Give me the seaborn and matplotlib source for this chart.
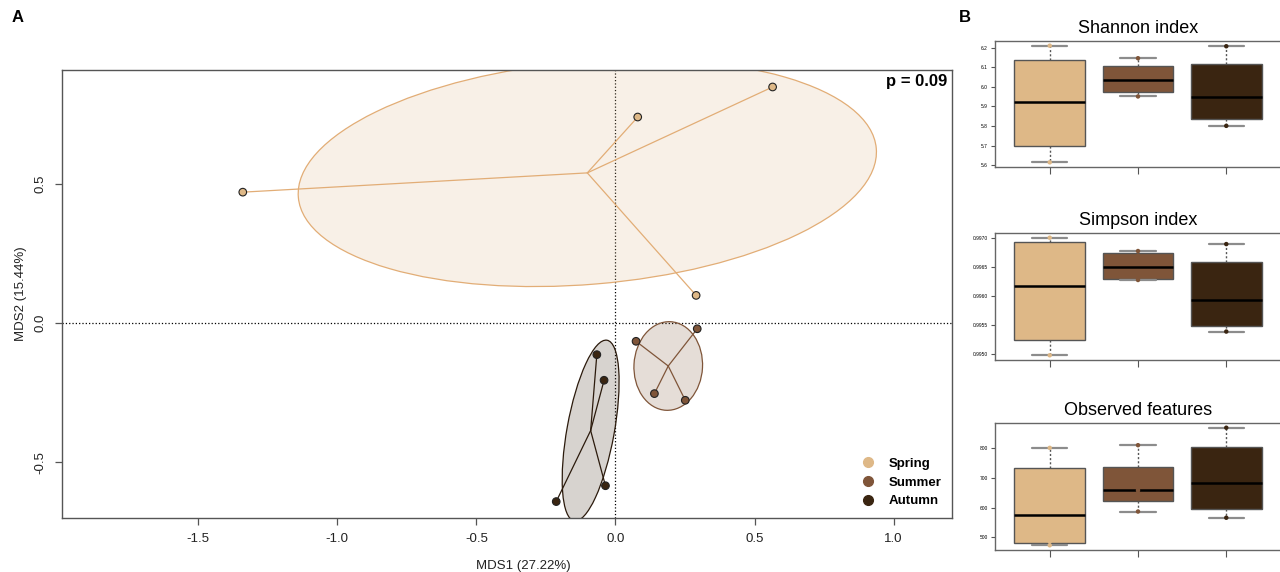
import numpy as np
import pandas as pd
import matplotlib.pyplot as plt
import seaborn as sns
from matplotlib.patches import Ellipse
from matplotlib.lines import Line2D
from matplotlib.ticker import MultipleLocator, FormatStrFormatter

seasons = ['Spring', 'Summer', 'Autumn']
colors = ['#DEB887', '#7F5539', '#3A2511']
line_colors = ['#E2AD76', '#7F5539', '#2B1A0C']

# NMDS scores per sample
mds1_spring = [-1.34, 0.08, 0.565, 0.29]
mds2_spring = [0.471, 0.741, 0.849, 0.100]
mds1_summer = [0.074, 0.294, 0.140, 0.251]
mds2_summer = [-0.065, -0.020, -0.253, -0.277]
mds1_autumn = [-0.067, -0.041, -0.036, -0.213]
mds2_autumn = [-0.113, -0.205, -0.584, -0.641]

# alpha diversity per sample
shannon_spring = [5.615, 5.781, 6.062, 6.210]
shannon_summer = [5.951, 5.997, 6.068, 6.146]
shannon_autumn = [5.801, 5.871, 6.021, 6.207]
simpson_spring = [0.99497, 0.99549, 0.99684, 0.99700]
simpson_summer = [0.99627, 0.99631, 0.99669, 0.99677]
simpson_autumn = [0.99538, 0.99558, 0.99627, 0.99689]
observed_spring = [473, 486, 666, 802]
observed_summer = [587, 658, 664, 811]
observed_autumn = [566, 625, 741, 870]

mds_x = [mds1_spring, mds1_summer, mds1_autumn]
mds_y = [mds2_spring, mds2_summer, mds2_autumn]

ord_df = pd.DataFrame({
    'season': np.repeat(seasons, 4),
    'MDS1': np.concatenate(mds_x),
    'MDS2': np.concatenate(mds_y),
})

alpha = {
    'Shannon index': [shannon_spring, shannon_summer, shannon_autumn],
    'Simpson index': [simpson_spring, simpson_summer, simpson_autumn],
    'Observed features': [observed_spring, observed_summer, observed_autumn],
}


def fivenum(v):
    # Tukey hinges, same as R's boxplot
    v = np.sort(np.asarray(v, dtype=float))
    n = len(v)
    n4 = np.floor((n + 3) / 2) / 2
    d = np.array([1, n4, (n + 1) / 2, n + 1 - n4, n])
    return 0.5 * (v[np.floor(d).astype(int) - 1] + v[np.ceil(d).astype(int) - 1])


sns.set_theme(style='white')
plt.rcParams['font.family'] = ['Liberation Sans', 'DejaVu Sans']
plt.rcParams['axes.unicode_minus'] = False
plt.rcParams['text.color'] = 'black'
plt.rcParams['axes.labelcolor'] = 'black'
plt.rcParams['xtick.color'] = 'black'
plt.rcParams['ytick.color'] = 'black'

fig = plt.figure(figsize=(12.8, 5.72), dpi=100)

# ---- panel A: NMDS ----
ax = fig.add_axes([62 / 1280, 1 - 518 / 572, 890 / 1280, 448 / 572])
k = np.sqrt(-2 * np.log(0.05))
for s, c, lc, xs, ys in zip(seasons, colors, line_colors, mds_x, mds_y):
    pts = np.column_stack([xs, ys])
    cen = pts.mean(axis=0)
    cov = np.cov(pts.T) / len(xs)
    vals, vecs = np.linalg.eigh(cov)
    ang = np.degrees(np.arctan2(vecs[1, 1], vecs[0, 1]))
    w, h = 2 * k * np.sqrt(vals[1]), 2 * k * np.sqrt(vals[0])
    ax.add_patch(Ellipse(cen, w, h, angle=ang, facecolor=c, alpha=0.2,
                         edgecolor='none', zorder=1))
    ax.add_patch(Ellipse(cen, w, h, angle=ang, facecolor='none', edgecolor=lc,
                         lw=0.9, zorder=1.5))
    for px, py in zip(xs, ys):
        ax.plot([cen[0], px], [cen[1], py], color=lc, lw=0.9, zorder=2)

sns.scatterplot(data=ord_df, x='MDS1', y='MDS2', hue='season', hue_order=seasons,
                palette=colors, s=30, edgecolor='#222222', linewidth=0.8,
                legend=False, zorder=3, ax=ax)
ax.axhline(0, color='black', ls=':', lw=0.9, zorder=0.5)
ax.axvline(0, color='black', ls=':', lw=0.9, zorder=0.5)
ax.set_xlim(-1.99, 1.21)
ax.set_ylim(-0.70, 0.91)
ax.set_xticks([-1.5, -1.0, -0.5, 0.0, 0.5, 1.0])
ax.set_yticks([-0.5, 0.0, 0.5])
ax.xaxis.set_major_formatter(FormatStrFormatter('%.1f'))
ax.yaxis.set_major_formatter(FormatStrFormatter('%.1f'))
ax.tick_params(axis='both', direction='out', length=5, width=0.9, color='#555555',
               labelsize=9.5, pad=6, bottom=True, left=True, labelcolor='#222222')
ax.tick_params(axis='y', labelrotation=90)
for t in ax.get_yticklabels():
    t.set_va('center')
for sp in ax.spines.values():
    sp.set_color('#555555')
    sp.set_linewidth(1)
ax.set_xlabel('MDS1 (27.22%)', fontsize=9.5, color='#222222')
ax.set_ylabel('MDS2 (15.44%)', fontsize=9.5, color='#222222')
ax.xaxis.set_label_coords(0.518, -0.093)
ax.yaxis.set_label_coords(-0.039, 0.5)
ax.text(0.995, 0.99, 'p = 0.09', transform=ax.transAxes, ha='right', va='top',
        fontsize=12, fontweight='bold')
handles = [Line2D([], [], marker='o', ls='', markerfacecolor=c, markeredgecolor=c,
                  markersize=7) for c in colors]
ax.legend(handles, seasons, loc='lower right', bbox_to_anchor=(1.002, -0.003), frameon=False,
          prop={'weight': 'bold', 'size': 9.5}, handletextpad=0.6, labelspacing=0.5)

fig.text(18 / 1280, 1 - 18 / 572, 'A', fontsize=12, fontweight='bold', ha='center', va='center')
fig.text(965 / 1280, 1 - 18 / 572, 'B', fontsize=12, fontweight='bold', ha='center', va='center')

# ---- panel B: alpha diversity boxplots ----
box_rows = [(41, 167), (233, 360), (423, 550)]
tick_steps = [0.1, 0.0005, 100]
tick_fmts = ['%.1f', '%.4f', '%d']
for (title, groups), (top, bot), step, fmt in zip(alpha.items(), box_rows, tick_steps, tick_fmts):
    bax = fig.add_axes([995 / 1280, 1 - bot / 572, 286 / 1280, (bot - top) / 572])
    summ = pd.DataFrame({
        'season': np.repeat(seasons, 5),
        'value': np.concatenate([fivenum(g) for g in groups]),
    })
    raw = pd.DataFrame({
        'season': np.repeat(seasons, 4),
        'value': np.concatenate(groups),
    })
    sns.boxplot(data=summ, x='season', y='value', hue='season', order=seasons,
                hue_order=seasons, palette=colors, saturation=1, width=0.8, whis=(0, 100),
                linecolor='#555555', linewidth=1, legend=False,
                medianprops={'color': 'black', 'linewidth': 1.8},
                whiskerprops={'linestyle': (0, (1.5, 1.5)), 'color': '#555555', 'linewidth': 1},
                capprops={'color': '#8c8c8c', 'linewidth': 1.6}, ax=bax)
    sns.stripplot(data=raw, x='season', y='value', hue='season', order=seasons,
                  hue_order=seasons, palette=colors, jitter=False, size=3.2,
                  linewidth=0, legend=False, zorder=5, ax=bax)
    vals = np.concatenate(groups)
    pad = 0.04 * (vals.max() - vals.min())
    bax.set_ylim(vals.min() - pad, vals.max() + pad)
    bax.set_xlim(-0.62, 2.62)
    bax.set_xticks([0, 1, 2])
    bax.set_xticklabels([])
    bax.yaxis.set_major_locator(MultipleLocator(step))
    bax.yaxis.set_major_formatter(FormatStrFormatter(fmt))
    bax.tick_params(axis='both', direction='out', length=3, width=0.8, color='#555555',
                    labelsize=3.5, pad=2, bottom=True, left=True)
    bax.tick_params(axis='x', length=5)
    bax.set_xlabel('')
    bax.set_ylabel('')
    bax.set_title(title, fontsize=13, pad=6)
    for sp in bax.spines.values():
        sp.set_color('#666666')
        sp.set_linewidth(1)

fig.savefig('out.png', dpi=100)
